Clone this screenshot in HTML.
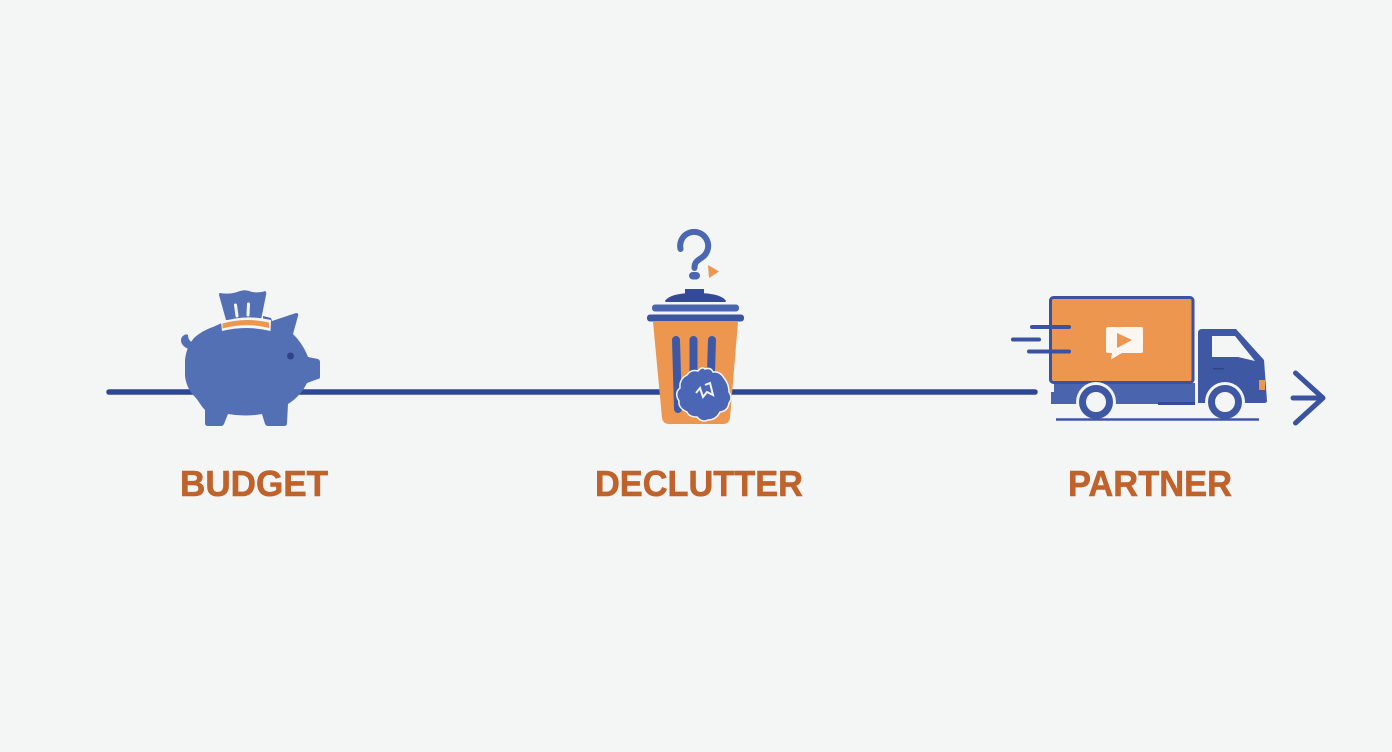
<!DOCTYPE html>
<html><head><meta charset="utf-8"><style>
html,body{margin:0;padding:0;background:#f4f5f5;}
svg{display:block;}
text{font-family:"Liberation Sans",sans-serif;font-weight:700;font-size:36px;fill:#bf622c;stroke:#bf622c;stroke-width:.6;}
</style></head><body>
<svg width="1392" height="752" viewBox="0 0 1392 752" xmlns="http://www.w3.org/2000/svg">
<rect width="1392" height="752" fill="#f4f5f5"/>
<!-- timeline -->
<line x1="109" y1="392" x2="1035" y2="392" stroke="#2f4793" stroke-width="5.5" stroke-linecap="round"/>

<!-- coin -->
<path d="M220 293Q230 295 240 291Q246 289 252 292Q260 293 265 291Q267 292 266 295L261 320H226L219 295Q219 293 220 293Z" fill="#5470b5"/>
<path d="M235.500 305L237 316M248.500 304L248 315" stroke="#f4f5f5" stroke-width="3" stroke-linecap="round"/>
<path d="M263 316L271 318L272 321L263 320Z" fill="#4f69ae"/>
<!-- pig -->
<path d="M185 360C186 350 190 342 195 337C201 332 207 329 213 327L226 321H272L296 313Q299 313 298 316L293 334C300 341 305 349 308 357L318 359Q320 360 320 362V377Q320 379 318 379L307 383C304 389 301 393 297 397C294 400 291 402 288 404L287 423Q287 426 284 426H268Q266 426 265 424L262 414Q245 417 228 414L224 424Q223 426 221 426H208Q205 426 205 423V410C201 406 198 400 195 397C190 392 186 385 185 376Z" fill="#5470b5"/>
<path d="M193 350C187 349 181 346 181 340C181 336 186 333 188 335C188 340 191 343 197 344Z" fill="#5470b5"/>
<circle cx="290.500" cy="356" r="3.500" fill="#2f4487"/>
<path d="M221 322Q246 314 271 320L270.500 331Q246 325 222 331Z" fill="#f4f5f5"/>
<path d="M222.500 323.500Q246 317 269 322.500L269 328Q246 322 222.500 328.500Z" fill="#ec9650"/>

<!-- question mark -->
<path d="M680.500 249A14 14 0 1 1 702 257.500C697 261 694.500 262 694.500 268" fill="none" stroke="#4b67b2" stroke-width="6" stroke-linecap="round"/>
<rect x="689" y="272" width="11" height="7.500" rx="3.700" fill="#4b67b2"/>
<path d="M708 265L719 271.500L709 278Z" fill="#ec9650"/>
<!-- trash -->
<path d="M653 322H738L730 418Q729 424 723 424H669Q663 424 662 418Z" fill="#ec9650"/>
<rect x="685" y="289" width="19" height="6" fill="#34499a"/>
<path d="M665 301C669 295 680 293 695 293C711 293 722 295 726 301Q726 302 724 302H667Q665 302 665 301Z" fill="#34499a"/>
<rect x="652" y="304.500" width="87" height="7" rx="3" fill="#4a66b0"/>
<rect x="647" y="314.500" width="97" height="7" rx="3" fill="#3c559f"/>
<path d="M676 340L678 409" stroke="#3f58a6" stroke-width="8" stroke-linecap="round"/>
<path d="M693.500 340V376" stroke="#3f58a6" stroke-width="8" stroke-linecap="round"/>
<path d="M712 340L711 372" stroke="#3f58a6" stroke-width="8" stroke-linecap="round"/>
<path d="M687 375Q691 369 698 371Q702 366 705 369Q711 367 713 372Q720 371 724 378Q729 384 729 392Q733 398 729 403Q728 411 720 412Q716 420 708 420Q702 423 697 417Q689 417 687 412Q678 408 679 401Q674 393 680 388Q679 379 687 375Z" fill="#4a66b4" stroke="#f4f5f5" stroke-width="1.500"/>
<path d="M696 393L700 388L703 397L707 392L713 395L710 383L705 385" fill="none" stroke="#f4f5f5" stroke-width="2"/>

<!-- truck -->
<path d="M1054 383H1195V403H1158V404H1051V392H1054Z" fill="#4a64ad"/>
<rect x="1050.500" y="297.500" width="142.500" height="85" rx="3" fill="#ec9650" stroke="#3b52a0" stroke-width="3"/>
<rect x="1158" y="402" width="37" height="3" fill="#34499a"/>
<path d="M1198 333Q1198 329 1202 329H1236L1264 360L1267 401Q1267 403 1264 403H1198Z" fill="#3f58a4"/>
<path d="M1212 336H1235L1255 361L1238 357H1212Z" fill="#f4f5f5"/>
<rect x="1259" y="380" width="6" height="10" fill="#ec9650"/>
<rect x="1213" y="368" width="11" height="1.500" fill="#2f4487"/>
<circle cx="1096" cy="402" r="20" fill="#f4f5f5"/>
<circle cx="1225" cy="402" r="20" fill="#f4f5f5"/>
<circle cx="1096" cy="402" r="13.500" fill="#f4f5f5" stroke="#3f58a4" stroke-width="7"/>
<circle cx="1225" cy="402" r="13.500" fill="#f4f5f5" stroke="#3f58a4" stroke-width="7"/>
<line x1="1056" y1="419.500" x2="1259" y2="419.500" stroke="#3f58a4" stroke-width="2.500"/>
<path d="M1108 327H1141Q1143 327 1143 329V351Q1143 353 1141 353H1122L1111 359.500L1112 353H1108Q1106 353 1106 351V329Q1106 327 1108 327Z" fill="#fbf6f0"/>
<path d="M1117 333L1132 340L1117 348Z" fill="#ec9650"/>
<path d="M1032 327H1069M1013 339.500H1039M1029 351.500H1069" stroke="#3b52a0" stroke-width="4" stroke-linecap="round"/>
<!-- arrow -->
<path d="M1295.500 373L1323 398L1295.500 423M1293 398H1322" fill="none" stroke="#3b52a0" stroke-width="5" stroke-linecap="round" stroke-linejoin="round"/>

<!-- labels -->
<text x="180" y="496" textLength="148" lengthAdjust="spacingAndGlyphs">BUDGET</text>
<text x="595" y="496" textLength="208" lengthAdjust="spacingAndGlyphs">DECLUTTER</text>
<text x="1068" y="496" textLength="164" lengthAdjust="spacingAndGlyphs">PARTNER</text>
</svg>
</body></html>
